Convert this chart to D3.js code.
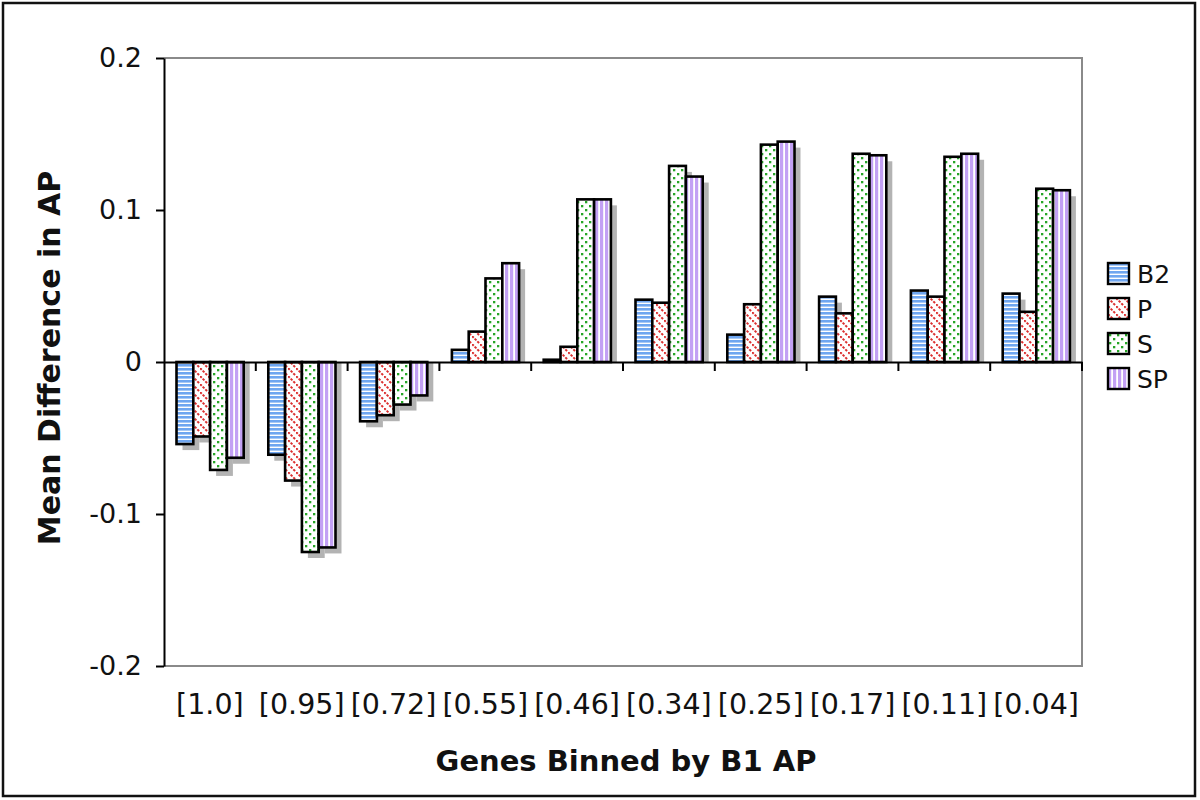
<!DOCTYPE html>
<html>
<head>
<meta charset="utf-8">
<script src="https://cdn.jsdelivr.net/npm/d3@7/dist/d3.min.js"></script>
<style>
  html, body { margin: 0; padding: 0; background: #fff; }
  svg { display: block; }
  text { font-family: "DejaVu Sans", Verdana, sans-serif; fill: #111; }
</style>
</head>
<body>
<svg id="chart" width="1200" height="800"></svg>
<script>
// ---- data ----
const categories = ["[1.0]", "[0.95]", "[0.72]", "[0.55]", "[0.46]", "[0.34]", "[0.25]", "[0.17]", "[0.11]", "[0.04]"];
const seriesNames = ["B2", "P", "S", "SP"];
const valuesB2 = [-0.054, -0.061, -0.039, 0.008, 0.0015, 0.041, 0.018, 0.043, 0.047, 0.045];
const valuesP  = [-0.049, -0.078, -0.035, 0.020, 0.010, 0.039, 0.038, 0.032, 0.043, 0.033];
const valuesS  = [-0.071, -0.125, -0.028, 0.055, 0.107, 0.129, 0.143, 0.137, 0.135, 0.114];
const valuesSP = [-0.063, -0.122, -0.022, 0.065, 0.107, 0.122, 0.145, 0.136, 0.137, 0.113];
const yTicks = [-0.2, -0.1, 0, 0.1, 0.2];
const yTickLabels = ["-0.2", "-0.1", "0", "0.1", "0.2"];
const xTitle = "Genes Binned by B1 AP";
const yTitle = "Mean Difference in AP";

const seriesValues = [valuesB2, valuesP, valuesS, valuesSP];

// ---- layout ----
const svg = d3.select("#chart");
const plot = { left: 164, right: 1082, top: 58, bottom: 666 };

const x0 = d3.scaleBand().domain(categories).range([plot.left, plot.right]).padding(0);
const groupStart = 12.5, groupWidth = 67.2;
const x1 = d3.scaleBand().domain(seriesNames).range([groupStart, groupStart + groupWidth]).padding(0);
const y = d3.scaleLinear().domain([-0.2, 0.2]).range([plot.bottom, plot.top]);

// ---- patterns ----
const defs = svg.append("defs");
function pat(id, w, h) {
  const p = defs.append("pattern").attr("id", id).attr("patternUnits", "userSpaceOnUse")
    .attr("width", w).attr("height", h);
  p.append("rect").attr("width", w).attr("height", h).attr("fill", "#fff");
  return p;
}
// B2: horizontal blue stripes
let p = pat("pB2", 4, 4);
p.append("rect").attr("x", 0).attr("y", 0).attr("width", 4).attr("height", 2.6).attr("fill", "#6fa6f0");
// P: red dashed diagonals (top-left to bottom-right)
p = pat("pP", 8, 8);
const dashPeriod = Math.sqrt(128) / 3;
p.append("path").attr("d", "M-8,-8 L16,16")
  .attr("stroke", "#dc2f2f").attr("stroke-width", 2)
  .attr("stroke-dasharray", `${dashPeriod * 0.65},${dashPeriod * 0.35}`);
// S: green dots
p = pat("pS", 8, 8);
p.append("rect").attr("x", 1).attr("y", 1).attr("width", 2.3).attr("height", 2.3).attr("fill", "#26a526");
p.append("rect").attr("x", 5).attr("y", 5).attr("width", 2.3).attr("height", 2.3).attr("fill", "#26a526");
// SP: vertical lavender stripes
p = pat("pSP", 5, 5);
p.append("rect").attr("x", 0).attr("y", 0).attr("width", 3.2).attr("height", 5).attr("fill", "#c2a0f4");

const fills = { B2: "url(#pB2)", P: "url(#pP)", S: "url(#pS)", SP: "url(#pSP)" };

// ---- outer border ----
svg.append("rect").attr("x", 3).attr("y", 3).attr("width", 1192).attr("height", 793)
  .attr("fill", "none").attr("stroke", "#111").attr("stroke-width", 2.5);

// ---- plot frame (gray) ----
svg.append("path")
  .attr("d", `M${plot.left},${plot.top} H${plot.right} V${plot.bottom} H${plot.left}`)
  .attr("fill", "none").attr("stroke", "#8a8a8a").attr("stroke-width", 2);

// ---- bars ----
const y0 = y(0);
const shadowOff = 6;
const barsG = svg.append("g");
seriesNames.forEach((s, si) => {
  const vals = seriesValues[si];
  const g = barsG.append("g");
  g.selectAll("rect.sh").data(vals).join("rect").attr("class", "sh")
    .attr("x", (d, i) => x0(categories[i]) + x1(s) + shadowOff)
    .attr("y", d => d >= 0 ? y(d) + shadowOff : y0)
    .attr("width", x1.bandwidth())
    .attr("height", d => d >= 0 ? Math.max(0, y0 - y(d) - shadowOff) : y(d) - y0 + shadowOff)
    .attr("fill", "#b3b3b3");
  g.selectAll("rect.bar").data(vals).join("rect").attr("class", "bar")
    .attr("x", (d, i) => x0(categories[i]) + x1(s))
    .attr("y", d => Math.min(y(d), y0))
    .attr("width", x1.bandwidth())
    .attr("height", d => Math.abs(y(d) - y0))
    .attr("fill", fills[s])
    .attr("stroke", "#000").attr("stroke-width", 2.6);
});

// ---- x axis at zero ----
const xAxis = d3.axisBottom(x0).tickSize(0).tickFormat("");
const xAxisG = svg.append("g").attr("transform", `translate(0,${y0})`).call(xAxis);
xAxisG.select(".domain").attr("stroke", "#000").attr("stroke-width", 2);
const boundaries = categories.map(c => x0(c)).concat([plot.right]).slice(1);
svg.append("g").selectAll("line").data(boundaries).join("line")
  .attr("x1", d => d).attr("x2", d => d)
  .attr("y1", y0).attr("y2", y0 + 9)
  .attr("stroke", "#000").attr("stroke-width", 2);

// ---- y axis ----
const yAxis = d3.axisLeft(y).tickValues(yTicks).tickSize(8).tickSizeOuter(0)
  .tickFormat((d, i) => yTickLabels[i]).tickPadding(14);
const yAxisG = svg.append("g").attr("transform", `translate(${plot.left},0)`).call(yAxis);
yAxisG.select(".domain").attr("stroke", "#000").attr("stroke-width", 2);
yAxisG.selectAll(".tick line").attr("stroke", "#000").attr("stroke-width", 2);
yAxisG.selectAll(".tick text").style("font-family", '"DejaVu Sans", Verdana, sans-serif')
  .style("font-size", "27px").attr("fill", "#111");

// ---- category labels ----
svg.append("g").selectAll("text").data(categories).join("text")
  .attr("x", d => x0(d) + x0.bandwidth() / 2)
  .attr("y", 714)
  .attr("text-anchor", "middle")
  .style("font-size", "28.5px")
  .text(d => d);

// ---- titles ----
svg.append("text")
  .attr("x", (plot.left + plot.right) / 2 + 3)
  .attr("y", 771)
  .attr("text-anchor", "middle")
  .style("font-size", "29px").style("font-weight", "bold")
  .text(xTitle);

svg.append("text")
  .attr("transform", `translate(60,${(plot.top + plot.bottom) / 2 - 4}) rotate(-90)`)
  .attr("text-anchor", "middle")
  .style("font-size", "30px").style("font-weight", "bold")
  .text(yTitle);

// ---- legend ----
const legend = svg.append("g").attr("transform", "translate(1108,263)");
const li = legend.selectAll("g").data(seriesNames).join("g")
  .attr("transform", (d, i) => `translate(0,${i * 35})`);
li.append("rect").attr("width", 21).attr("height", 21)
  .attr("fill", d => fills[d]).attr("stroke", "#000").attr("stroke-width", 2.4);
li.append("text").attr("x", 29).attr("y", 11).attr("dy", "0.36em")
  .style("font-size", "25px").text(d => d);
</script>
</body>
</html>
